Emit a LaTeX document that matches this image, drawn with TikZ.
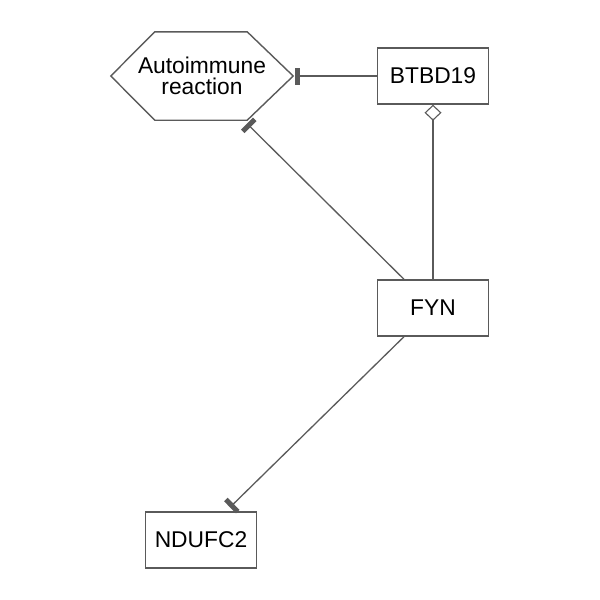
\documentclass[tikz,border=0pt]{standalone}
\usepackage{fontspec}
\setmainfont{Liberation Sans}
\usetikzlibrary{arrows.meta}
\definecolor{linegray}{HTML}{5A5A5A}

\begin{document}
\begin{tikzpicture}[x=1pt,y=-1pt,every node/.style={font=\fontsize{22.8}{21}\selectfont},
  genebox/.style={draw=linegray,line width=1.4pt,minimum width=111pt,minimum height=56pt,inner sep=0pt},
  link/.style={draw=linegray,line width=1.3pt},
  inhibit/.style={link,-{Rectangle[width=17pt,length=5pt]}},
  bind/.style={link,-{Diamond[open,width=17pt,length=16pt,line width=1.1pt]}}]
   \useasboundingbox (0,0) rectangle (600,600);
   \node [genebox] (btbd) at (433,76) {BTBD19};
   \node [genebox] (fyn) at (433,308) {FYN};
   \node [genebox] (ndufc) at (201,540) {NDUFC2};
   \node [minimum width=182pt,minimum height=88pt,inner sep=0pt,align=center] (autoimm) at (202,76) {Autoimmune\\reaction};
   \draw [link,line width=1.4pt] (autoimm.west) -- ([xshift=44pt]autoimm.north west)
    -- ([xshift=-46pt]autoimm.north east) -- (autoimm.east)
    -- ([xshift=-46pt]autoimm.south east) -- ([xshift=44pt]autoimm.south west) -- cycle;
   \draw [inhibit] (btbd.west) -- ([xshift=2pt]autoimm.east);
   \draw [bind] (fyn.north) -- (btbd.south);
   \draw [inhibit] ([xshift=-29pt]fyn.north) -- ([xshift=45pt,yshift=-3.4pt]autoimm.south);
   \draw [inhibit] ([xshift=-29pt]fyn.south) -- ([xshift=29pt,yshift=4pt]ndufc.north);
  \end{tikzpicture}
\end{document}
